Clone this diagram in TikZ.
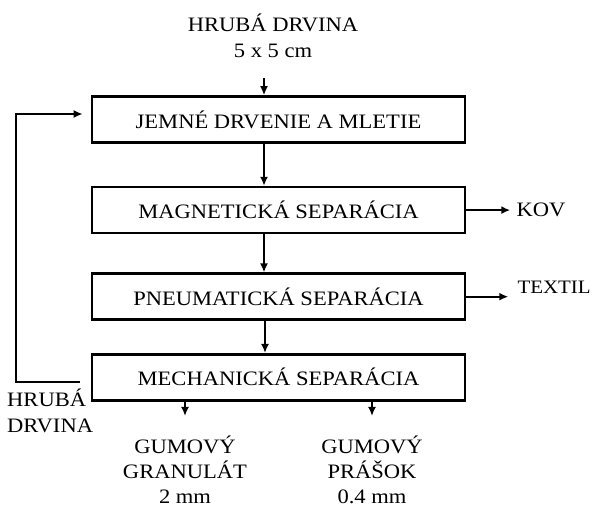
\documentclass[tikz,border=0pt]{standalone}
\usepackage{fontspec}
\setmainfont[FakeStretch=1.1]{Liberation Serif}
\usetikzlibrary{positioning,arrows.meta}

\begin{document}
\begin{tikzpicture}[x=1pt, y=-1pt, font=\fontsize{20.5}{26}\selectfont,
	every node/.style={inner sep=0pt},
	box/.style={draw, line width=2.6pt, minimum width=373pt, minimum height=46pt},
	arr/.style={-{Latex[length=9pt,width=8pt]}, line width=2.3pt}]
	\useasboundingbox (0,0) rectangle (592,510);
	% process boxes
	\node[box] (J) at (278.5,119.5) {JEMNÉ DRVENIE A MLETIE};
	\node[box, below=42pt of J] (M) {MAGNETICKÁ SEPARÁCIA};
	\node[box, below=38pt of M] (P) {PNEUMATICKÁ SEPARÁCIA};
	\node[box, below=32pt of P] (X) {MECHANICKÁ SEPARÁCIA};
	% input and outputs
	\node[anchor=north, align=center] (H) at (273,14) {HRUBÁ DRVINA\\5 x 5 cm};
	\coordinate (in) at (264,78);
	\node[right=50pt of M] (K) {KOV};
	\node[right=51pt of P, yshift=9pt, font=\fontsize{19}{26}\selectfont] (T) {TEXTIL};
	\node[anchor=north west, align=left] (R) at (7,389) {HRUBÁ\\DRVINA};
	\node[anchor=north, align=center, font=\fontsize{20.5}{25}\selectfont] (G) at (185,436) {GUMOVÝ\\GRANULÁT\\2 mm};
	\node[anchor=north, align=center, font=\fontsize{20.5}{25}\selectfont] (W) at (372,436) {GUMOVÝ\\PRÁŠOK\\0.4 mm};
	% flow
	\draw[arr] (in) -- (in |- J.north);
	\draw[arr] ([xshift=-14.5pt]J.south) -- ([xshift=-14.5pt]M.north);
	\draw[arr] ([xshift=-14.5pt]M.south) -- ([xshift=-14.5pt]P.north);
	\draw[arr] ([xshift=-13.5pt]P.south) -- ([xshift=-13.5pt]X.north);
	\draw[arr, shorten >=6pt] (M.east) -- (K.west);
	\draw[arr, shorten >=9pt] (P.east) -- (P.east -| T.west);
	\draw[arr] ([xshift=-11pt,yshift=-5pt]X.west) -- ++(-64,0) |- ([xshift=-8pt,yshift=5.5pt]J.west);
	\draw[arr, shorten >=20pt] (X.south -| G.north) -- (G.north);
	\draw[arr, shorten >=20pt] (X.south -| W.north) -- (W.north);
\end{tikzpicture}
\end{document}
